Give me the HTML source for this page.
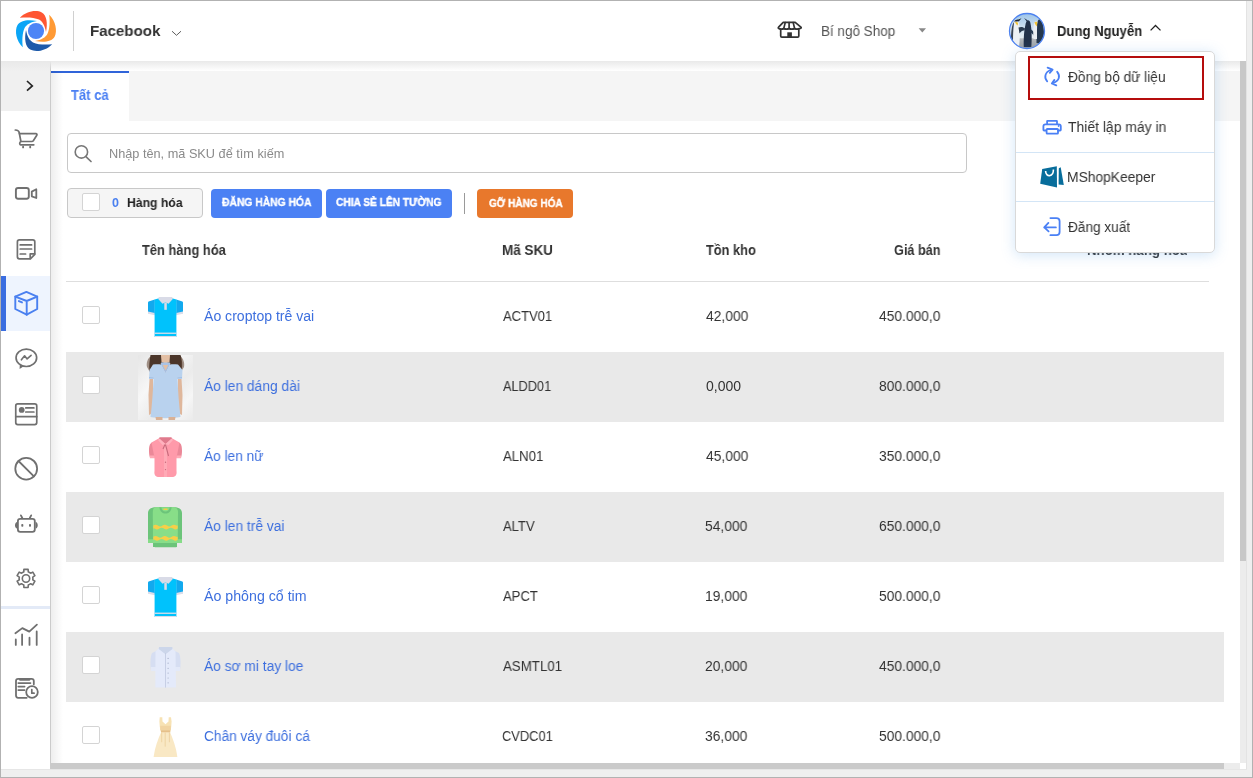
<!DOCTYPE html>
<html><head><meta charset="utf-8"><style>
*{box-sizing:border-box;margin:0;padding:0}
html,body{width:1253px;height:778px;overflow:hidden;background:#efefef;font-family:"Liberation Sans",sans-serif;color:#333}
.a{position:absolute}
.t{position:absolute;white-space:nowrap;line-height:1;transform-origin:0 0;-webkit-font-smoothing:antialiased;will-change:transform}
svg{position:absolute;overflow:visible}
</style></head><body>
<div class="a" style="left:0px;top:0px;width:1253px;height:778px;background:#efefef;border:1px solid #b2b2b2"></div>
<div class="a" style="left:1px;top:1px;width:1245px;height:60px;background:#fff"></div>
<div class="a" style="left:1246px;top:1px;width:1px;height:768px;background:#e3e3e3"></div>
<div class="a" style="left:1px;top:769px;width:1246px;height:1px;background:#e6e6e6"></div>
<div class="a" style="left:1px;top:61px;width:50px;height:708px;background:#fff;border-right:1px solid #cbcbcb"></div>
<div class="a" style="left:1px;top:61px;width:49px;height:50px;background:#f0f0f0"></div>
<div class="a" style="left:1px;top:276px;width:49px;height:55px;background:#eef4fe"></div>
<div class="a" style="left:1px;top:276px;width:5px;height:55px;background:#3a6de0"></div>
<div class="a" style="left:1px;top:606px;width:49px;height:3px;background:#e3eaf7"></div>
<div class="a" style="left:51px;top:61px;width:1189px;height:702px;background:#fff"></div>
<div class="a" style="left:51px;top:71px;width:1189px;height:50px;background:#f5f5f5"></div>
<div class="a" style="left:51px;top:71px;width:78px;height:50px;background:#fff;border-top:2px solid #3064d9"></div>
<div class="a" style="left:1px;top:61px;width:1239px;height:10px;background:linear-gradient(#e9e9e9,rgba(250,250,250,0))"></div>
<div class="a" style="left:51px;top:71px;width:12px;height:692px;background:linear-gradient(90deg,rgba(0,0,0,.065),rgba(0,0,0,0))"></div>
<div class="t" style="left:71.00px;top:88.00px;font-size:14.0px;font-weight:bold;color:#4a7ff3;transform:scaleX(0.9293);">Tất cả</div>
<div class="a" style="left:67px;top:133px;width:900px;height:40px;border:1px solid #c8c8c8;border-radius:4px;background:#fff"></div>
<svg style="left:0;top:0" width="1253" height="778"><circle cx="81.4" cy="151.9" r="6.2" fill="none" stroke="#777" stroke-width="1.6"/><path d="M85.9,156.6 L91,161.5" stroke="#777" stroke-width="1.7" stroke-linecap="round"/></svg>
<div class="t" style="left:109.38px;top:148.00px;font-size:12.5px;font-weight:normal;color:#8a8a8a;transform:scaleX(1.0175);">Nhập tên, mã SKU để tìm kiếm</div>
<div class="a" style="left:67px;top:188px;width:136px;height:30px;background:#f5f5f5;border:1px solid #c8c8c8;border-radius:4px"></div>
<div class="a" style="left:82px;top:193px;width:18px;height:18px;background:#fff;border:1px solid #d4d4d4;border-radius:2px"></div>
<div class="t" style="left:112.40px;top:197.00px;font-size:12.5px;font-weight:bold;color:#4a80f0;transform:scaleX(0.9571);">0</div>
<div class="t" style="left:127.02px;top:197.00px;font-size:12.5px;font-weight:bold;color:#222;transform:scaleX(0.9768);">Hàng hóa</div>
<div class="a" style="left:211px;top:189px;width:111px;height:29px;background:#4b81f4;border-radius:4px"></div>
<div class="a" style="left:326px;top:189px;width:126px;height:29px;background:#4b81f4;border-radius:4px"></div>
<div class="a" style="left:464px;top:193px;width:1px;height:21px;background:#9a9a9a"></div>
<div class="a" style="left:477px;top:189px;width:96px;height:29px;background:#e8782c;border-radius:4px"></div>
<div class="t" style="left:221.50px;top:197.00px;font-size:11.0px;font-weight:bold;color:#fff;transform:scaleX(0.9379);-webkit-text-stroke:0.35px #fff">ĐĂNG HÀNG HÓA</div>
<div class="t" style="left:336.20px;top:197.00px;font-size:11.0px;font-weight:bold;color:#fff;transform:scaleX(0.9246);-webkit-text-stroke:0.35px #fff">CHIA SẺ LÊN TƯỜNG</div>
<div class="t" style="left:488.70px;top:198.00px;font-size:11.0px;font-weight:bold;color:#fff;transform:scaleX(0.9099);-webkit-text-stroke:0.35px #fff">GỠ HÀNG HÓA</div>
<div class="t" style="left:142.00px;top:243.00px;font-size:14.0px;font-weight:bold;color:#333;transform:scaleX(0.9209);">Tên hàng hóa</div>
<div class="t" style="left:502.04px;top:243.00px;font-size:14.0px;font-weight:bold;color:#333;transform:scaleX(0.9627);">Mã SKU</div>
<div class="t" style="left:705.70px;top:243.00px;font-size:14.0px;font-weight:bold;color:#333;transform:scaleX(0.9148);">Tồn kho</div>
<div class="t" style="left:893.70px;top:243.00px;font-size:14.0px;font-weight:bold;color:#333;transform:scaleX(0.9059);">Giá bán</div>
<div class="t" style="left:1086.55px;top:243.00px;font-size:14.0px;font-weight:bold;color:#333;transform:scaleX(0.9476);">Nhóm hàng hóa</div>
<div class="a" style="left:66px;top:281px;width:1143px;height:1px;background:#dedede"></div>
<div class="a" style="left:82px;top:306px;width:18px;height:18px;background:#fff;border:1px solid #d4d4d4;border-radius:2px"></div>
<div class="t" style="left:204.00px;top:309.00px;font-size:14.0px;font-weight:normal;color:#3d6fde;transform:scaleX(1.0046);">Áo croptop trễ vai</div>
<div class="t" style="left:502.80px;top:309.00px;font-size:14.0px;font-weight:normal;color:#333;transform:scaleX(0.9308);">ACTV01</div>
<div class="t" style="left:705.70px;top:309.00px;font-size:14.0px;font-weight:normal;color:#333;transform:scaleX(0.9881);">42,000</div>
<div class="t" style="left:878.80px;top:309.00px;font-size:14.0px;font-weight:normal;color:#333;transform:scaleX(0.9871);">450.000,0</div>
<div class="a" style="left:66px;top:352px;width:1158px;height:70px;background:#e9e9e9"></div>
<div class="a" style="left:82px;top:376px;width:18px;height:18px;background:#fff;border:1px solid #d4d4d4;border-radius:2px"></div>
<div class="t" style="left:204.00px;top:379.00px;font-size:14.0px;font-weight:normal;color:#3d6fde;transform:scaleX(0.9856);">Áo len dáng dài</div>
<div class="t" style="left:502.70px;top:379.00px;font-size:14.0px;font-weight:normal;color:#333;transform:scaleX(0.9094);">ALDD01</div>
<div class="t" style="left:705.70px;top:379.00px;font-size:14.0px;font-weight:normal;color:#333;transform:scaleX(0.9881);">0,000</div>
<div class="t" style="left:878.80px;top:379.00px;font-size:14.0px;font-weight:normal;color:#333;transform:scaleX(0.9871);">800.000,0</div>
<div class="a" style="left:82px;top:446px;width:18px;height:18px;background:#fff;border:1px solid #d4d4d4;border-radius:2px"></div>
<div class="t" style="left:204.00px;top:449.00px;font-size:14.0px;font-weight:normal;color:#3d6fde;transform:scaleX(0.9783);">Áo len nữ</div>
<div class="t" style="left:502.70px;top:449.00px;font-size:14.0px;font-weight:normal;color:#333;transform:scaleX(0.9429);">ALN01</div>
<div class="t" style="left:705.70px;top:449.00px;font-size:14.0px;font-weight:normal;color:#333;transform:scaleX(0.9881);">45,000</div>
<div class="t" style="left:878.80px;top:449.00px;font-size:14.0px;font-weight:normal;color:#333;transform:scaleX(0.9871);">350.000,0</div>
<div class="a" style="left:66px;top:492px;width:1158px;height:70px;background:#e9e9e9"></div>
<div class="a" style="left:82px;top:516px;width:18px;height:18px;background:#fff;border:1px solid #d4d4d4;border-radius:2px"></div>
<div class="t" style="left:204.00px;top:519.00px;font-size:14.0px;font-weight:normal;color:#3d6fde;transform:scaleX(0.9852);">Áo len trễ vai</div>
<div class="t" style="left:502.70px;top:519.00px;font-size:14.0px;font-weight:normal;color:#333;transform:scaleX(0.9294);">ALTV</div>
<div class="t" style="left:704.71px;top:519.00px;font-size:14.0px;font-weight:normal;color:#333;transform:scaleX(0.9881);">54,000</div>
<div class="t" style="left:878.80px;top:519.00px;font-size:14.0px;font-weight:normal;color:#333;transform:scaleX(0.9871);">650.000,0</div>
<div class="a" style="left:82px;top:586px;width:18px;height:18px;background:#fff;border:1px solid #d4d4d4;border-radius:2px"></div>
<div class="t" style="left:204.00px;top:589.00px;font-size:14.0px;font-weight:normal;color:#3d6fde;transform:scaleX(1.0140);">Áo phông cổ tim</div>
<div class="t" style="left:502.70px;top:589.00px;font-size:14.0px;font-weight:normal;color:#333;transform:scaleX(0.9324);">APCT</div>
<div class="t" style="left:704.71px;top:589.00px;font-size:14.0px;font-weight:normal;color:#333;transform:scaleX(0.9881);">19,000</div>
<div class="t" style="left:878.80px;top:589.00px;font-size:14.0px;font-weight:normal;color:#333;transform:scaleX(0.9871);">500.000,0</div>
<div class="a" style="left:66px;top:632px;width:1158px;height:70px;background:#e9e9e9"></div>
<div class="a" style="left:82px;top:656px;width:18px;height:18px;background:#fff;border:1px solid #d4d4d4;border-radius:2px"></div>
<div class="t" style="left:204.00px;top:659.00px;font-size:14.0px;font-weight:normal;color:#3d6fde;transform:scaleX(0.9832);">Áo sơ mi tay loe</div>
<div class="t" style="left:502.70px;top:659.00px;font-size:14.0px;font-weight:normal;color:#333;transform:scaleX(0.9484);">ASMTL01</div>
<div class="t" style="left:704.71px;top:659.00px;font-size:14.0px;font-weight:normal;color:#333;transform:scaleX(0.9881);">20,000</div>
<div class="t" style="left:878.80px;top:659.00px;font-size:14.0px;font-weight:normal;color:#333;transform:scaleX(0.9871);">450.000,0</div>
<div class="a" style="left:82px;top:726px;width:18px;height:18px;background:#fff;border:1px solid #d4d4d4;border-radius:2px"></div>
<div class="t" style="left:203.62px;top:729.00px;font-size:14.0px;font-weight:normal;color:#3d6fde;transform:scaleX(0.9776);">Chân váy đuôi cá</div>
<div class="t" style="left:501.98px;top:729.00px;font-size:14.0px;font-weight:normal;color:#333;transform:scaleX(0.9185);">CVDC01</div>
<div class="t" style="left:704.71px;top:729.00px;font-size:14.0px;font-weight:normal;color:#333;transform:scaleX(0.9881);">36,000</div>
<div class="t" style="left:878.80px;top:729.00px;font-size:14.0px;font-weight:normal;color:#333;transform:scaleX(0.9871);">500.000,0</div>
<svg style="left:148px;top:297px" width="35" height="40" viewBox="0 0 35 40">
<path d="M6.8,2.6 L0.6,4.6 Q0,5 0,6 L0,16 L6.8,17.6 Z" fill="#12a9ee"/>
<path d="M28.2,2.6 L34.4,4.6 Q35,5 35,6 L35,16 L28.2,17.6 Z" fill="#12a9ee"/>
<path d="M0,14.6 L6.8,16 L6.8,18.2 L0,16.8 Z M35,14.6 L28.2,16 L28.2,18.2 L35,16.8 Z" fill="#dcdde9"/>
<path d="M6.6,2.4 L11,1.2 L17.5,4 L24,1.2 L28.4,2.4 L28.4,40 L6.6,40 Z" fill="#00c2fc"/>
<path d="M10.8,0 L24.2,0 L24.8,2 L20.5,6.8 L17.5,5.2 L14.5,6.8 L10.2,2 Z" fill="#d9dbe7"/>
<rect x="16.3" y="5.5" width="2.5" height="7.3" fill="#d9dbe7"/>
<rect x="6.6" y="35.6" width="21.8" height="1.3" fill="#dcdde9"/>
<rect x="6.6" y="39" width="21.8" height="1" fill="#dcdde9"/>
</svg>
<svg style="left:138px;top:355px" width="55" height="65" viewBox="0 0 55 65">
<defs><linearGradient id="pbg" x1="0" y1="0" x2="1" y2="1"><stop offset="0" stop-color="#e6e6e6"/><stop offset=".35" stop-color="#f7f7f7"/><stop offset=".6" stop-color="#ebebeb"/><stop offset=".8" stop-color="#f6f6f6"/><stop offset="1" stop-color="#eaeaea"/></linearGradient></defs>
<rect width="55" height="65" fill="url(#pbg)"/>
<path d="M12.5,0 L42.5,0 C44,4 45,10 43.5,16 C41,16 37,14 34,10 L21,10 C18,14 15,16 11.5,16.5 C10.5,11 11.5,5 12.5,0Z" fill="#4b362a"/><path d="M9,12 C8,8 10,3 12,2 L11.5,16.5Z M46,12 C47,8 45,3 43,2 L43.5,16Z" fill="#6a5040" opacity=".6"/>
<path d="M23,0 H32 L31.5,7 C30,8.5 25,8.5 23.5,7Z" fill="#e3bfa4"/>
<path d="M22.5,8 L32.5,8 L27.5,18Z" fill="#e3bfa4"/><rect x="23" y="7.5" width="9" height="2.5" fill="#a9c3e6"/>
<path d="M11,60 L10.5,40 L11.5,24 L15,23 L15,58Z M44,60 L44.5,40 L43.5,24 L40,23 L40,58Z" fill="#dfb79c"/>
<path d="M15,9.6 C18,9 21,9 23,9.5 L27.5,18 L32,9.5 C34,9 37,9 40,9.6 L44.5,15 L44,24 L39.5,24 C40,36 41,50 42.5,62 C34,63.5 21,63.5 12.5,62 C14,50 15,36 15.5,24 L11,24 L11.5,15Z" fill="#b9d2ee"/>
<path d="M23,9.5 L27.5,18 L32,9.5 L30.5,9.5 L27.5,15.5 L24.5,9.5Z" fill="#a3bfe4"/>
<path d="M11,22.5 L15.5,23 M44,22.5 L39.5,23" stroke="#a3bfe4" stroke-width="1"/>
<path d="M17.5,62 L18,65 L24.5,65 L24.5,62Z M30.5,62 L30.5,65 L37,65 L37.5,62Z" fill="#d9b196"/>
</svg>
<svg style="left:149px;top:437px" width="33" height="40" viewBox="0 0 33 40">
<path d="M3,5.5 C0.5,6.5 0,10 0,14 C0,17 0.5,19 1,21 L6,21 L6,5.5Z M30,5.5 C32.5,6.5 33,10 33,14 C33,17 32.5,19 32,21 L27,21 L27,5.5Z" fill="#eb8898"/>
<path d="M1,18.5 L6,18.5 L6,21.3 L1,21.3Z M32,18.5 L27,18.5 L27,21.3 L32,21.3Z" fill="#ffaab6"/>
<path d="M2.5,5.5 L10.5,1 L22.5,1 L30.5,5.5 L27.5,21 L27.5,34 C28,37 27,39.5 24,40 L9,40 C6,39.5 5,37 5.5,34 L5.5,21Z" fill="#ff9aaa"/>
<path d="M10.5,0.3 L22.5,0.3 L23,2 L16.5,7 L10,2Z" fill="#e07a8c"/>
<path d="M10.5,1.5 L16.5,7 L13.5,8 L9,3Z M22.5,1.5 L16.5,7 L19.5,8 L24,3Z" fill="#ffb2be"/>
<rect x="15" y="7" width="3" height="33" fill="#ffaab6"/>
<path d="M16,7.5 L14,12 M16.5,7.5 L19.5,19" stroke="#c86a7c" stroke-width="1.1"/>
<circle cx="16.5" cy="25.2" r=".7" fill="#c86a7c"/><circle cx="16.5" cy="32.6" r=".7" fill="#c86a7c"/>
</svg>
<svg style="left:148px;top:507px" width="34" height="41" viewBox="0 0 34 41">
<path d="M6,0.3 L28,0.3 C32,1 34,3 34,6 L34,36 L29,36 L29,40 L5,40 L5,36 L0,36 L0,6 C0,3 2,1 6,0.3Z" fill="#6cc47a"/>
<path d="M0,32.3 L5.3,32.3 L5.3,36 L0,36Z M34,32.3 L28.8,32.3 L28.8,36 L34,36Z" fill="#86dc88"/>
<path d="M7,0.3 L27,0.3 C29,1 30,3 30,5 L29.7,36 L5,36 L4.8,5 C4.8,3 5.5,1 7,0.3Z" fill="#88de88"/>
<path d="M11.4,0.3 L23.6,0.3 C23.4,4 20.8,6.6 17.5,6.6 C14.2,6.6 11.6,4 11.4,0.3Z" fill="#6cc47a"/>
<path d="M13.4,0.3 L21.6,0.3 C21.4,2.8 19.8,4.6 17.5,4.6 C15.2,4.6 13.6,2.8 13.4,0.3Z" fill="#88de88"/>
<rect x="15.3" y="1.6" width="4.4" height="1.3" rx=".6" fill="#f5cc45"/>
<rect x="6.3" y="36" width="22.5" height="4.3" rx=".8" fill="#6cc47a"/>
<path d="M5.3,18.6 Q7.6,16.9 9.9,18.6 T14.5,18.6 T19.1,18.6 T23.7,18.6 T28.3,18.6 L29.7,18.6 L29.7,21.6 Q27.4,23.3 25.1,21.6 T20.5,21.6 T15.9,21.6 T11.3,21.6 T6.7,21.6 L5.3,21.6Z" fill="#f7cf48"/>
<path d="M5.3,29.8 Q7.6,28.1 9.9,29.8 T14.5,29.8 T19.1,29.8 T23.7,29.8 T28.3,29.8 L29.7,29.8 L29.7,32.8 Q27.4,34.5 25.1,32.8 T20.5,32.8 T15.9,32.8 T11.3,32.8 T6.7,32.8 L5.3,32.8Z" fill="#f7cf48"/>
</svg>
<svg style="left:148px;top:577px" width="35" height="40" viewBox="0 0 35 40">
<path d="M6.8,2.6 L0.6,4.6 Q0,5 0,6 L0,16 L6.8,17.6 Z" fill="#12a9ee"/>
<path d="M28.2,2.6 L34.4,4.6 Q35,5 35,6 L35,16 L28.2,17.6 Z" fill="#12a9ee"/>
<path d="M0,14.6 L6.8,16 L6.8,18.2 L0,16.8 Z M35,14.6 L28.2,16 L28.2,18.2 L35,16.8 Z" fill="#dcdde9"/>
<path d="M6.6,2.4 L11,1.2 L17.5,4 L24,1.2 L28.4,2.4 L28.4,40 L6.6,40 Z" fill="#00c2fc"/>
<path d="M10.8,0 L24.2,0 L24.8,2 L20.5,6.8 L17.5,5.2 L14.5,6.8 L10.2,2 Z" fill="#d9dbe7"/>
<rect x="16.3" y="5.5" width="2.5" height="7.3" fill="#d9dbe7"/>
<rect x="6.6" y="35.6" width="21.8" height="1.3" fill="#dcdde9"/>
<rect x="6.6" y="39" width="21.8" height="1" fill="#dcdde9"/>
</svg>
<svg style="left:150px;top:647px" width="31" height="41" viewBox="0 0 31 41">
<path d="M2,5.9 L8,3 L8,24 L1,24 C0.2,18 0,10 2,5.9Z M29,5.9 L23,3 L23,24 L30,24 C30.8,18 31,10 29,5.9Z" fill="#d6def2"/>
<path d="M1,20 L6,20 L6,24 L1,24Z M30,20 L25,20 L25,24 L30,24Z" fill="#e3e9f8"/>
<path d="M5.5,4.5 L9,1 L22,1 L25.5,4.5 L26,40.6 L5.3,40.6Z" fill="#e4eafa"/>
<path d="M9,0.1 L22.3,0.1 L22.5,2 L15.5,7.2 L8.7,2Z" fill="#ccd6ea"/>
<path d="M15.5,6 V40.6" stroke="#c3cce2" stroke-width=".9"/>
<g fill="#a4aec8"><circle cx="18.1" cy="11.4" r=".6"/><circle cx="18.1" cy="16.2" r=".6"/><circle cx="18.1" cy="21.3" r=".6"/><circle cx="18.1" cy="26.1" r=".6"/><circle cx="18.1" cy="31" r=".6"/><circle cx="18.1" cy="35.8" r=".6"/></g>
</svg>
<svg style="left:153px;top:717px" width="25" height="40" viewBox="0 0 25 40">
<path d="M6.7,0.2 L9.3,0.2 L9.5,4.5 L12.5,7.2 L15.5,4.5 L15.7,0.2 L18,0.2 L18.6,4.5 L18.2,10 L17.2,15.5 L8,15.5 L6.8,10 L6.4,4.5Z" fill="#f7e2b4"/>
<rect x="7.2" y="8.8" width="10.6" height="4.6" fill="#f1d4a2"/>
<rect x="8" y="13.3" width="9.2" height="2.3" fill="#e6c08a"/>
<path d="M8,15.5 L17.2,15.5 C20,22 23,30 24.4,40 L0.6,40 C2,30 5,22 8,15.5Z" fill="#f9e8c4"/>
<path d="M8.7,15.5 V25.2 M12.2,15.5 V29.7 M16.4,15.5 V25.2" stroke="#ecce9a" stroke-width=".8"/>
</svg>

<div class="a" style="left:1240px;top:61px;width:6px;height:702px;background:#ececec"></div>
<div class="a" style="left:1240px;top:61px;width:6px;height:500px;background:#c8c8c8"></div>
<div class="a" style="left:51px;top:763px;width:1189px;height:6px;background:#ececec"></div>
<div class="a" style="left:51px;top:763px;width:1173px;height:6px;background:#cacaca"></div>
<div class="a" style="left:1240px;top:763px;width:6px;height:6px;background:#fff"></div>
<svg style="left:16px;top:11px" width="40" height="40" viewBox="-20 -20 40 40">
<defs><path id="bl" d="M-16.2,-13.2 C-10,-19.8 0,-21.6 5.8,-18.6 C10.8,-15.6 11.8,-8 10,1 C8.8,-5.5 6.4,-9.6 3,-11.4 C-2,-13.8 -10,-14 -16.2,-13.2Z"/></defs>
<use href="#bl" fill="#ff5633"/>
<use href="#bl" fill="#ff9a35" transform="rotate(90)"/>
<use href="#bl" fill="#1d5aaa" transform="rotate(180)"/>
<use href="#bl" fill="#0ba5f6" transform="rotate(270)"/>
<circle cx="0" cy="0" r="8.1" fill="#4d85f6"/>
</svg>

<div class="a" style="left:73px;top:11px;width:1px;height:40px;background:#d0d0d0"></div>
<div class="t" style="left:89.81px;top:23.00px;font-size:15.3px;font-weight:bold;color:#333;transform:scaleX(0.9857);">Facebook</div>
<svg style="left:0;top:0" width="1253" height="60"><path d="M172,31.2 L176.5,35.3 L181,31.2" fill="none" stroke="#555" stroke-width="0.95"/><path d="M1150.6,30.4 L1155.5,25.5 L1160.5,30.4" fill="none" stroke="#222" stroke-width="1.3"/><path d="M918.6,28.3 L926,28.3 L922.3,32.4 Z" fill="#888"/></svg>
<svg style="left:0;top:0" width="1253" height="60">
<g fill="none" stroke="#333" stroke-width="1.7" stroke-linejoin="round" stroke-linecap="round">
<path d="M783.2,22.3 L795.2,22.3 L801.2,27.4 Q801.3,28.6 799.4,28.6 Q797,29.6 794.6,28.6 Q791.8,29.6 789.1,28.6 Q786.4,29.6 783.7,28.6 Q781.3,29.6 779,28.6 Q777.8,28 778.6,27.2 Z"/>
<path d="M785.2,22.6 L783.8,28.4 M789.1,22.6 V28.4 M793.2,22.6 L794.6,28.4"/>
<path d="M780.7,29.6 V36 Q780.7,37.1 781.8,37.1 H797.7 Q798.8,37.1 798.8,36 V29.6"/>
</g>
<rect x="787.3" y="32.3" width="4.6" height="5.3" fill="#333"/>
</svg>

<div class="t" style="left:820.94px;top:24.00px;font-size:14.0px;font-weight:normal;color:#555;transform:scaleX(0.9632);">Bí ngô Shop</div>
<svg style="left:1009px;top:13px" width="36" height="36" viewBox="0 0 36 36">
<defs><clipPath id="av"><circle cx="18" cy="18" r="17.3"/></clipPath>
<linearGradient id="sky" x1="0" y1="0" x2="0" y2="1"><stop offset="0" stop-color="#9cc4e8"/><stop offset=".4" stop-color="#cde0f0"/><stop offset=".68" stop-color="#e4edf3"/><stop offset=".72" stop-color="#b3b8bc"/><stop offset="1" stop-color="#979da2"/></linearGradient></defs>
<g clip-path="url(#av)">
<rect x="0" y="0" width="36" height="36" fill="url(#sky)"/>
<path d="M2.5,34 C1.5,26 2,17 3.5,12 C4.5,8.5 6,7.5 8,7.5 C9.5,8 10,10 10.5,13 C11,20 11,27 10,34 Z" fill="#eef1f4"/>
<path d="M2.5,34 C1.5,26 2,17 3.5,12 C4,10.5 4.5,9.5 5.2,9 C4.2,15 3.8,25 4.3,34Z" fill="#3a4656"/>
<path d="M5,8.6 C6,7 8,6.3 9.5,6.6 L12.5,5.2 L10,8.2 C8.5,8.4 6.5,8.6 5,8.6Z" fill="#1e2631"/>
<path d="M6,9.2 C7,9 8.3,9 9,9.8 L8.7,12.5 C7.8,11.8 6.8,10.8 6,9.2Z" fill="#f0c232"/>
<path d="M9.5,14.5 C12,13.5 14.5,14 16,15.5 L15.5,17.5 C14,17 12,18 10.5,20.5Z" fill="#2c3d52"/>
<path d="M14.8,34 C14.5,27 15,18 16.3,12.5 C16.8,9.5 17.5,7.5 18.8,7.2 C20.5,7.2 21.3,8.8 21.5,10.5 C22.8,16 23,26 22.3,34Z" fill="#22324a"/>
<path d="M18.6,7.3 L15,5 L17.8,8.4Z" fill="#22324a"/>
<path d="M21.5,16 C24,17.5 26.5,21 28,24.5 L26.8,25.3 C25,22.5 23.3,20.5 21.7,19.5Z" fill="#2a3e56"/>
<path d="M27.5,30 C27.5,24 27.5,16 28,11 C28.5,7.5 29.5,6 31,6.2 C33,7 34,10 34.5,14 C35.2,20 35.5,26 35,31Z" fill="#25384f"/>
<path d="M24.5,26 C24,20 24.2,14 25,10.5 C25.7,8.5 27,8 28.3,8.6 C28,13 28,19 28,26Z" fill="#eaeff3"/>
<path d="M25.4,9.6 C26.3,8.6 27.6,8.4 28.3,9.2 L27.8,13.4 C26.8,12.4 26,11.2 25.4,9.6Z" fill="#f0c232"/>
</g>
<circle cx="18" cy="18" r="17.5" fill="none" stroke="#4d82f0" stroke-width="1.3"/>
</svg>

<div class="t" style="left:1056.66px;top:24.00px;font-size:14.0px;font-weight:bold;color:#222;transform:scaleX(0.9360);">Dung Nguyễn</div>
<svg style="left:0;top:0" width="52" height="778">
<path d="M27,81 L32.3,85.9 L27,90.7" fill="none" stroke="#262626" stroke-width="1.7"/>
<g fill="none" stroke="#707070" stroke-width="1.7" stroke-linecap="round" stroke-linejoin="round">
<path d="M15.3,130 C17.6,130 19,130.9 19.3,133 L20.9,141.5"/>
<path d="M19.4,133.6 L36,133.6 Q37.4,133.9 36.8,135.3 L33.3,140.8 Q32.8,141.5 31.8,141.5 L21.2,141.5 C19.4,141.7 19.2,144.7 20.8,144.8 L33.8,144.8"/>
<path d="M23.1,146.7 V147.4 M30.2,146.7 V147.4" stroke-width="1.9"/>
<rect x="15.9" y="188" width="12.9" height="10.7" rx="2.2" stroke-width="1.9"/>
<path d="M31.8,191.6 L36.3,189.3 L36.3,198 L31.8,196.3 Z" stroke-width="1.8"/>
<path d="M19.4,239.9 H32.8 Q34.8,239.9 34.8,241.9 V254.3 L30.4,258.8 H19.4 Q17.4,258.8 17.4,256.8 V241.9 Q17.4,239.9 19.4,239.9 Z"/>
<path d="M30.2,258.5 V253.9 H34.6"/>
<path d="M20.2,244.9 H31.6 M20.2,249 H31.6 M20.2,254 H25.6"/>
<path d="M26.4,318 C30,318 36.9,317 36.9,357.8" stroke="none"/>
<ellipse cx="26.35" cy="357.8" rx="10.3" ry="8.7"/>
<path d="M21.4,359.8 L24.6,355.8 L27.1,358.9 L31.1,355.4" stroke-width="1.6"/>
<rect x="15.75" y="403.9" width="21" height="20.7" rx="2"/>
<path d="M15.75,416.7 H36.75 M25.8,407.9 H33.9 M25.8,412 H33.9"/>
<circle cx="26.2" cy="468.7" r="10.9" stroke-width="1.8"/>
<path d="M18.5,461 L33.9,476.4" stroke-width="1.8"/>
<rect x="17.9" y="518.8" width="16.9" height="13" rx="2.3" stroke-width="1.8"/>
<path d="M20.9,515.4 L22.3,518 M31.2,515.4 L29.8,518" stroke-width="1.8"/>
<path d="M23.9,569.4 L28.1,569.4 L28.3,571.9 L29.5,572.5 L30.6,573.2 L32.8,572.1 L34.9,575.7 L32.8,577.1 L32.9,578.5 L32.8,579.8 L34.9,581.2 L32.8,584.8 L30.6,583.7 L29.5,584.4 L28.3,585.0 L28.1,587.5 L23.9,587.5 L23.8,585.0 L22.6,584.4 L21.5,583.7 L19.2,584.8 L17.1,581.2 L19.3,579.8 L19.1,578.5 L19.3,577.1 L17.1,575.7 L19.2,572.1 L21.5,573.2 L22.6,572.5 L23.8,571.9 Z" stroke-width="1.6"/>
<circle cx="26" cy="578.5" r="3.7" stroke-width="1.6"/>
<path d="M15.4,633.2 L22.3,628.1 L29.3,631.6 L36.9,624.6" stroke-width="1.8"/>
<path d="M15.8,639.4 V644.9 M22.1,634.5 V644.9 M29.5,637.7 V644.9 M36.7,631.4 V644.9" stroke-width="1.8"/>
<path d="M26.7,697.8 H18.1 Q16,697.8 16,695.6 V681.1 Q16,678.9 18.2,678.9 H31.6 Q33.8,678.9 33.8,681.1 V684.3" stroke-width="1.8"/>
<path d="M20.2,679.6 H29.2" stroke-width="2.4"/>
<path d="M18.3,683.1 H30.5 M18.3,686.6 H24.6 M18.3,690.1 H24.6" stroke-width="1.7"/>
<circle cx="32" cy="692" r="5.8" stroke-width="1.8"/>
<path d="M31.8,689.6 V693.2 H34.1" stroke-width="1.7"/>
</g>
<g fill="#707070">
<circle cx="21.7" cy="409.9" r="2.9"/>
<path d="M17.2,522 C14.6,522.3 14,527.9 17.2,528.6 Z M35.6,522 C38.2,522.3 38.8,527.9 35.6,528.6 Z"/>
<rect x="21.3" y="523.9" width="2" height="2.8" rx="0.8"/>
<rect x="29" y="523.9" width="2" height="2.8" rx="0.8"/>
<path d="M19.8,364.3 L19.6,369.1 L23.4,366.6 Z"/>
</g>
<g fill="none" stroke="#4a80f0" stroke-width="1.9" stroke-linejoin="round" stroke-linecap="round">
<path d="M26.4,291.9 L15.3,296.6 L15.3,309 L26.7,314.7 L37.2,309 L37.2,296.6 Z"/>
<path d="M15.3,296.6 L26.7,301 L37.2,296.6 M26.7,301 V314.7"/>
<path d="M18.9,301.1 L22,302.4"/>
</g>
</svg>

<div class="a" style="left:1015px;top:51px;width:200px;height:202px;background:#fff;border:1px solid #d9d9d9;border-radius:5px;box-shadow:0 2px 14px rgba(90,160,230,.28)"></div>
<div class="a" style="left:1028px;top:56px;width:176px;height:44px;border:2px solid #b50d0d"></div>
<div class="a" style="left:1016px;top:152px;width:198px;height:1px;background:#d3e5f6"></div>
<div class="a" style="left:1016px;top:201px;width:198px;height:1px;background:#d3e5f6"></div>
<div class="t" style="left:1068.20px;top:70.00px;font-size:14.0px;font-weight:normal;color:#333;transform:scaleX(0.9788);">Đồng bộ dữ liệu</div>
<div class="t" style="left:1068.20px;top:120.00px;font-size:14.0px;font-weight:normal;color:#333;transform:scaleX(0.9949);">Thiết lập máy in</div>
<div class="t" style="left:1067.21px;top:170.00px;font-size:14.0px;font-weight:normal;color:#333;transform:scaleX(0.9875);">MShopKeeper</div>
<div class="t" style="left:1068.20px;top:220.00px;font-size:14.0px;font-weight:normal;color:#333;transform:scaleX(0.9734);">Đăng xuất</div>
<svg style="left:0;top:0" width="1253" height="260">
<g fill="none" stroke="#4a80f5" stroke-width="1.8" stroke-linecap="round" stroke-linejoin="round">
<path d="M1047.2,81.3 C1044,78 1044.6,72.2 1050.8,70"/>
<path d="M1047.6,67.7 L1052.6,69.7 L1049.8,72.9"/>
<path d="M1057.2,71.8 C1060.4,75.6 1059.6,81 1053.2,83"/>
<path d="M1054.4,79.9 L1051.8,83.5 L1056.3,85.4"/>
<path d="M1047.1,123.4 V121.2 Q1047.1,120.9 1047.5,120.9 H1056.6 Q1057,120.9 1057,121.2 V123.4"/>
<path d="M1046,130.5 H1044.1 Q1043.4,130.5 1043.4,129.8 V126.3 Q1043.4,124.3 1045.4,124.3 H1058.8 Q1060.8,124.3 1060.8,126.3 V129.8 Q1060.8,130.5 1060.1,130.5 H1058"/>
<rect x="1046.6" y="129" width="11.4" height="4.7" rx="0.6"/>
<path d="M1050.4,218.1 H1056.4 Q1059.6,218.1 1059.6,221.3 V232 Q1059.6,235.2 1056.4,235.2 H1050.4"/>
<path d="M1044.2,227.4 H1055.9 M1048.4,222.9 L1044.2,227.4 L1048.6,231.4"/>
</g>
<circle cx="1058.6" cy="126" r="0.9" fill="#4a80f5"/>
<path d="M1042.2,169.1 L1056.8,166.2 L1057,187.5 L1040.2,183.8 Z" fill="#086d9b"/>
<path d="M1058.8,168.2 L1060.7,167.2 L1063.8,185.1 L1058.6,184.6 Z" fill="#086d9b"/>
<path d="M1045.6,171 C1045.6,177.5 1053.6,177.4 1053.4,169.6" fill="none" stroke="#fff" stroke-width="1.6"/>
</svg>

</body></html>
